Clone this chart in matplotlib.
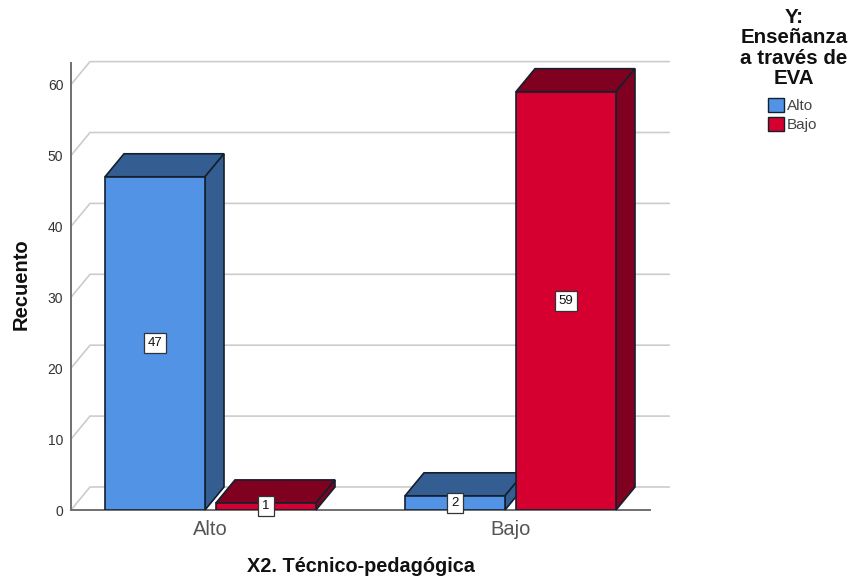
#!/usr/bin/env python3

import numpy as np
import matplotlib
matplotlib.use('Agg')
import matplotlib.pyplot as plt
from matplotlib.patches import Polygon, Patch

plt.rcParams['font.family'] = ['Liberation Sans', 'DejaVu Sans']

categories = ['Alto', 'Bajo']
series_names = ['Alto', 'Bajo']
alto_values = [47, 2]
bajo_values = [1, 59]
y_ticks = [0, 10, 20, 30, 40, 50, 60]

x_title = 'X2. Técnico-pedagógica'
y_title = 'Recuento'
legend_title = 'Y:\nEnseñanza\na través de\nEVA'

blue = '#5393e5'
blue_dark = '#345e91'
red = '#d5002f'
red_dark = '#800020'
edge = '#14202e'
grid_col = '#cccccc'
axis_col = '#707070'

W, H = 851, 579
fig = plt.figure(figsize=(W / 100, H / 100), dpi=100)
# axes placed by pixels of the floor line and the top of the y axis
left, right, bottom, top = 71, 650, 510, 63
ax = fig.add_axes([left / W, 1 - bottom / H, (right - left) / W, (bottom - top) / H])

px_x = 300.0   # pixels per category
px_y = 7.09    # pixels per count
ax.set_xlim((left - 210.5) / px_x, (right - 210.5) / px_x)
ax.set_ylim(0, (bottom - top) / px_y)

depth_x = 19 / px_x
depth_y = 23 / px_y
bar_w = 100 / px_x
offset = 55.5 / px_x

# back wall grid lines, with the diagonal down to the y axis
x_min = ax.get_xlim()[0]
x_max = ax.get_xlim()[1]
for t in y_ticks:
    ax.plot([x_min, x_min + depth_x, x_max + depth_x], [t, t + depth_y, t + depth_y],
            color=grid_col, lw=1.2, clip_on=False, zorder=1, solid_joinstyle='miter')


def bar3d(x, v, front, dark, z):
    ax.bar(x, v, bar_w, color=front, edgecolor=edge, lw=1.2, zorder=z + 0.2)
    x0 = x - bar_w / 2
    x1 = x + bar_w / 2
    top_face = [(x0, v), (x1, v), (x1 + depth_x, v + depth_y), (x0 + depth_x, v + depth_y)]
    side_face = [(x1, 0), (x1 + depth_x, depth_y), (x1 + depth_x, v + depth_y), (x1, v)]
    ax.add_patch(Polygon(top_face, fc=dark, ec=edge, lw=1.2, zorder=z, clip_on=False, joinstyle='miter'))
    ax.add_patch(Polygon(side_face, fc=dark, ec=edge, lw=1.2, zorder=z, clip_on=False, joinstyle='miter'))


xs = np.arange(len(categories))
for i in xs:
    bar3d(i - offset, alto_values[i], blue, blue_dark, 3 + 2 * i)
    bar3d(i + offset, bajo_values[i], red, red_dark, 4 + 2 * i)

# value labels
for i in xs:
    for x, v in [(i - offset, alto_values[i]), (i + offset, bajo_values[i])]:
        ax.text(x, v / 2, str(v), ha='center', va='center', fontsize=9.5, color='#111111', zorder=20,
                bbox=dict(boxstyle='square,pad=0.3', fc='white', ec='#333333', lw=0.9))

ax.set_xticks(xs)
ax.set_xticklabels(categories, fontsize=14.5, color='#555555')
ax.set_yticks(y_ticks)
ax.tick_params(axis='x', length=0, pad=7)
ax.tick_params(axis='y', length=0, pad=5.5, labelsize=10, labelcolor='#333333')

for s in ['top', 'right']:
    ax.spines[s].set_visible(False)
for s in ['left', 'bottom']:
    ax.spines[s].set_color(axis_col)
    ax.spines[s].set_linewidth(1.4)
    ax.spines[s].set_zorder(2)

fig.text(361 / W, 1 - 566 / H, x_title, ha='center', va='center', fontsize=14.3, fontweight='bold', color='#111111')
fig.text(21.5 / W, 1 - 284.5 / H, y_title, ha='center', va='center', rotation=90, fontsize=14.5, fontweight='bold', color='#111111')

fig.text(794 / W, 1 - 48 / H, legend_title, ha='center', va='center', multialignment='center', fontsize=14.8,
         fontweight='bold', linespacing=1.07, color='#111111')
fig.legend(handles=[Patch(fc=blue, ec=edge, lw=1.0), Patch(fc=red, ec=edge, lw=1.0)],
           labels=series_names, loc='upper left',
           bbox_to_anchor=(757 / W, 1 - 87 / H), frameon=False, fontsize=11,
           handlelength=1.05, handleheight=1.05, handletextpad=0.2, labelspacing=0.25,
           borderpad=0.2, labelcolor='#444444')

fig.savefig('out.png', dpi=100)
